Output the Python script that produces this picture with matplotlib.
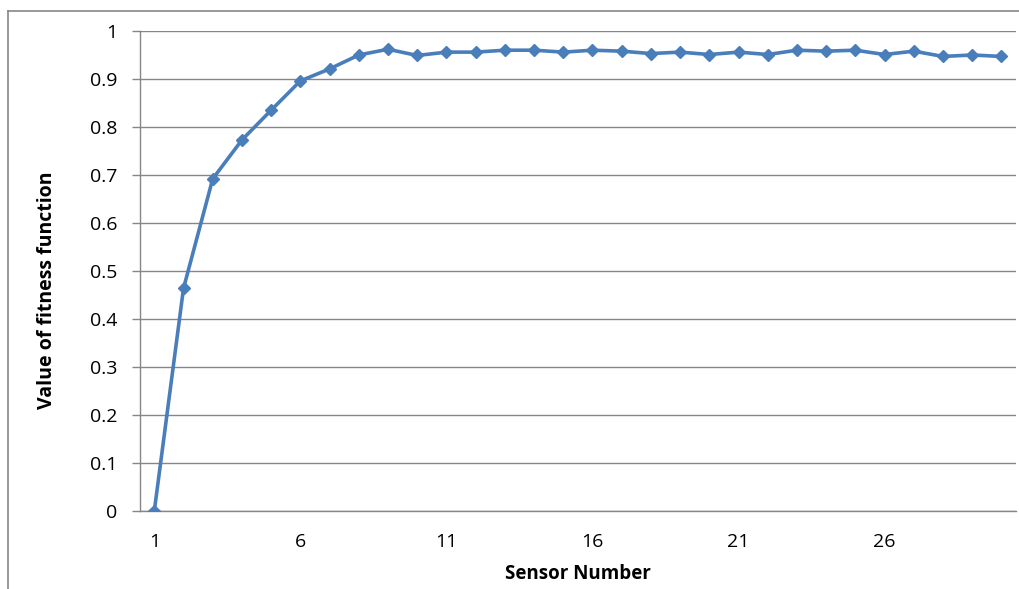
import matplotlib.pyplot as plt
from matplotlib.lines import Line2D

plt.rcParams.update({
    "font.family": ["Open Sans", "DejaVu Sans"],
    "font.size": 14,
})

# data
sensors = list(range(1, 31))
fitness = [0.000, 0.464, 0.692, 0.773, 0.835, 0.896, 0.921, 0.950, 0.962, 0.949,
           0.956, 0.956, 0.960, 0.960, 0.956, 0.960, 0.958, 0.953, 0.956, 0.951,
           0.956, 0.951, 0.960, 0.958, 0.960, 0.951, 0.958, 0.947, 0.950, 0.947]
x_ticks = [1, 6, 11, 16, 21, 26]
y_ticks = [0, 0.1, 0.2, 0.3, 0.4, 0.5, 0.6, 0.7, 0.8, 0.9, 1]
y_tick_labels = ["0", "0.1", "0.2", "0.3", "0.4", "0.5", "0.6", "0.7", "0.8", "0.9", "1"]

W, H = 1019, 589
fig = plt.figure(figsize=(W / 100, H / 100), dpi=100)
ax = fig.add_axes([139.7 / W, 1 - 511 / H, (1016 - 139.7) / W, (511 - 31) / H])

grid_col = "#868686"
ax.set_axisbelow(True)
for y in y_ticks:
    ax.axhline(y, color=grid_col, linewidth=1.0, zorder=0)

ax.plot(sensors, fitness, color="#4A7EBB", linewidth=2.6, marker="D",
        markersize=6, zorder=3)

ax.set_xlim(0.5, 30.5)
ax.set_ylim(0, 1)
ax.set_xticks(x_ticks)
ax.set_yticks(y_ticks)
ax.set_yticklabels(y_tick_labels)

for s in ["top", "right"]:
    ax.spines[s].set_visible(False)
for s in ["left", "bottom"]:
    ax.spines[s].set_color(grid_col)
    ax.spines[s].set_linewidth(1.0)

ax.tick_params(axis="y", length=6, width=1, color=grid_col, pad=10, labelsize=14)
ax.tick_params(axis="x", length=0, pad=16, labelsize=14)

ax.set_xlabel("Sensor Number", fontsize=13.5, fontweight="bold")
ax.xaxis.set_label_coords(0.5, (511 - 574) / 480, transform=ax.transAxes)
ax.set_ylabel("Value of fitness function", fontsize=14, fontweight="bold")
ax.yaxis.set_label_coords((47 - 139.7) / (1016 - 139.7), (511 - 290) / 480)
ax.xaxis.label.set_va("center")
ax.yaxis.label.set_va("center")

# chart area border (left and top edges visible in the reference)
fig.add_artist(Line2D([8 / W, 8 / W], [0, 1 - 11 / H], color=grid_col, linewidth=1.2))
fig.add_artist(Line2D([8 / W, 1], [1 - 11 / H, 1 - 11 / H], color=grid_col, linewidth=1.2))

fig.savefig("out.png", dpi=100)
